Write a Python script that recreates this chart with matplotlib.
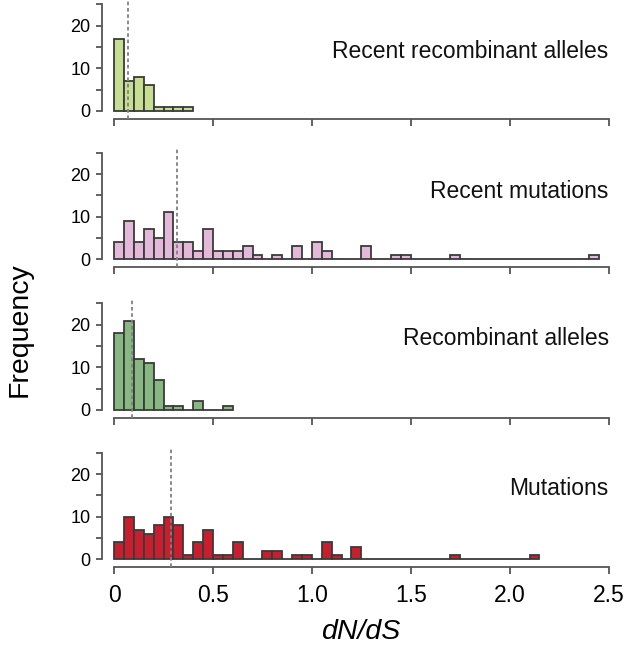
import numpy as np
import matplotlib
matplotlib.use("Agg")
import matplotlib.pyplot as plt

plt.rcParams['font.family'] = ['Liberation Sans', 'DejaVu Sans']

bin_width = 0.05 # dN/dS bin size
# histogram counts per bin, starting at 0
recent_recomb = [17, 7, 8, 6, 1, 1, 1, 1]
recent_mut = [4, 9, 4, 7, 5, 11, 4, 4, 2, 7, 2, 2, 2, 3, 1, 0, 1, 0, 3, 0, 4, 2, 0, 0, 0,
              3, 0, 0, 1, 1, 0, 0, 0, 0, 1, 0, 0, 0, 0, 0, 0, 0, 0, 0, 0, 0, 0, 0, 1]
recomb = [18, 21, 12, 11, 7, 1, 1, 0, 2, 0, 0, 1]
mutations = [4, 10, 7, 6, 8, 10, 8, 1, 4, 7, 1, 1, 4, 0, 0, 2, 2, 0, 1, 1, 0, 4, 1, 0, 3,
             0, 0, 0, 0, 0, 0, 0, 0, 0, 1, 0, 0, 0, 0, 0, 0, 0, 1]
medians = [0.072, 0.32, 0.089, 0.289] # dashed lines
labels = ["Recent recombinant alleles", "Recent mutations", "Recombinant alleles", "Mutations"]
label_y = [14, 16.0, 16.9, 16.6]
xticks = [0, 0.5, 1.0, 1.5, 2.0, 2.5]
xticklabels = ["0", "0.5", "1.0", "1.5", "2.0", "2.5"]

series = [recent_recomb, recent_mut, recomb, mutations]
colors = ["#c6de92", "#e4b8d8", "#88b882", "#c81e2e"]
bottoms = [0.8182, 0.5918, 0.3617, 0.1337]
edge = "#3a3a3a"
axcol = "#555555"

fig = plt.figure(figsize=(6.28, 6.55), dpi=100)

for i in range(4):
    ax = fig.add_axes([0.1618, bottoms[i], 0.8137, 0.1808])
    counts = np.array(series[i])
    left = np.arange(len(counts)) * bin_width
    ax.bar(left, counts, width=bin_width, align='edge', color=colors[i], edgecolor=edge, linewidth=1.3)
    ax.axvline(medians[i], color="#808080", linestyle=(0, (2, 1.5)), linewidth=1.3, zorder=3)
    ax.set_xlim(-0.063, 2.52)
    ax.set_ylim(-1.9, 25.9)
    ax.text(2.5, label_y[i], labels[i], ha='right', va='center', fontsize=16.5, color="#111111")

    # R style axes: detached spines
    for s in ['top', 'right']:
        ax.spines[s].set_visible(False)
    ax.spines['left'].set_bounds(0, 25)
    ax.spines['bottom'].set_bounds(0, 2.5)
    for s in ['left', 'bottom']:
        ax.spines[s].set_color(axcol)
        ax.spines[s].set_linewidth(1.3)
    ax.set_yticks([0, 5, 10, 15, 20, 25])
    ax.set_yticklabels(["0", "", "10", "", "20", ""])
    ax.set_xticks(xticks)
    if i == 3:
        ax.set_xticklabels(xticklabels)
    else:
        ax.set_xticklabels([])
    ax.tick_params(axis='y', length=4, width=1.3, color=axcol, labelsize=13, pad=4)
    ax.tick_params(axis='x', length=5, width=1.3, color=axcol, labelsize=16.5, pad=7)
    ax.patch.set_visible(False)

fig.text(0.032, 0.496, "Frequency", rotation=90, ha='center', va='center', fontsize=20.5)
fig.text(0.575, 0.035, "dN/dS", ha='center', va='center', fontsize=20.5, style='italic')

plt.savefig("out.png", dpi=100)
